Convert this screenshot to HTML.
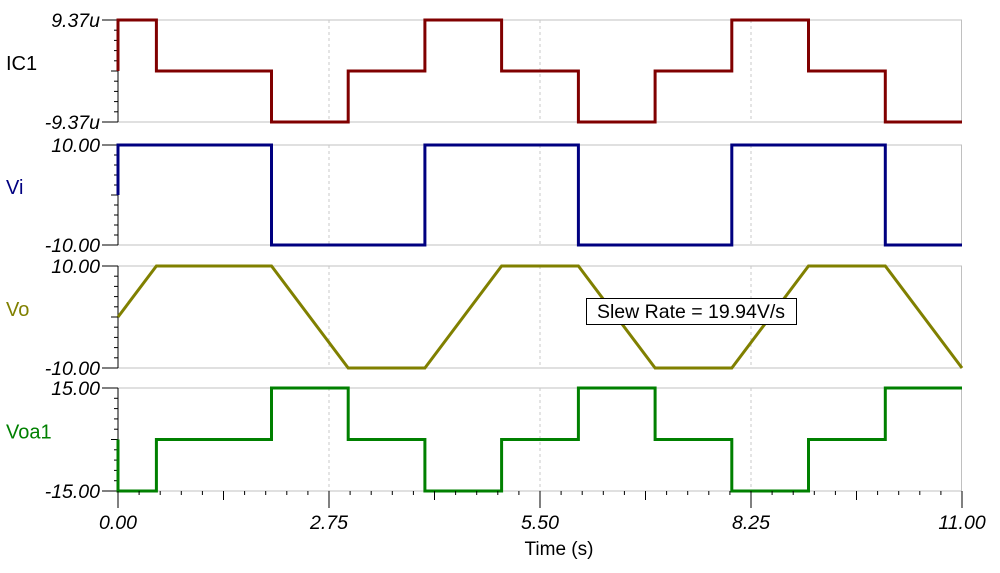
<!DOCTYPE html>
<html><head><meta charset="utf-8"><style>
body{margin:0;background:#fff;width:1000px;height:573px;overflow:hidden}
svg{display:block;font-family:"Liberation Sans",sans-serif}
</style></head><body>
<svg id="chart" width="1000" height="573" viewBox="0 0 1000 573"></svg>
<script>
const xTickLabels=["0.00","2.75","5.50","8.25","11.00"];
const xTickValues=[0,2.75,5.5,8.25,11];
const panelNames=["IC1","Vi","Vo","Voa1"];
const panelTopLabels=["9.37u","10.00","10.00","15.00"];
const panelBottomLabels=["-9.37u","-10.00","-10.00","-15.00"];
const panelMax=[9.37,10,10,15];
const panelColors=["#800000","#000080","#808000","#008000"];
const ic1T=[0,0,0.5,0.5,2,2,3,3,4,4,5,5,6,6,7,7,8,8,9,9,10,10,11];
const ic1V=[0,9.37,9.37,0,0,-9.37,-9.37,0,0,9.37,9.37,0,0,-9.37,-9.37,0,0,9.37,9.37,0,0,-9.37,-9.37];
const viT=[0,0,2,2,4,4,6,6,8,8,10,10,11];
const viV=[0,10,10,-10,-10,10,10,-10,-10,10,10,-10,-10];
const voT=[0,0.5,2,3,4,5,6,7,8,9,10,11];
const voV=[0,10,10,-10,-10,10,10,-10,-10,10,10,-10];
const voaT=[0,0,0.5,0.5,2,2,3,3,4,4,5,5,6,6,7,7,8,8,9,9,10,10,11];
const voaV=[0,-15,-15,0,0,15,15,0,0,-15,-15,0,0,15,15,0,0,-15,-15,0,0,15,15];
const seriesT=[ic1T,viT,voT,voaT];
const seriesV=[ic1V,viV,voV,voaV];

const NS="http://www.w3.org/2000/svg";
const svg=document.getElementById("chart");
const X0=118,X1=962,T0=0,T1=11;
const tops=[20,145,266,388],bots=[122,245,368,491];
const xs=t=>X0+(t-T0)/(T1-T0)*(X1-X0);
function mk(tag,attrs,parent){const e=document.createElementNS(NS,tag);for(const k in attrs)e.setAttribute(k,attrs[k]);(parent||svg).appendChild(e);return e;}

for(let p=0;p<4;p++){
  const top=tops[p],bot=bots[p],mx=panelMax[p];
  const ys=v=>top+(mx-v)/(2*mx)*(bot-top);
  const g=mk("g",{});
  
  
  mk("line",{x1:X0,y1:top,x2:X1,y2:top,stroke:"#c0c0c0"},g);
  mk("line",{x1:X0,y1:bot,x2:X1,y2:bot,stroke:"#c0c0c0"},g);
  mk("line",{x1:X1-0.5,y1:top,x2:X1-0.5,y2:bot,stroke:"#c0c0c0"},g);
  for(let i=1;i<4;i++){mk("line",{x1:xs(xTickValues[i]),y1:top,x2:xs(xTickValues[i]),y2:bot,stroke:"#c8c8c8","stroke-dasharray":"3,3"},g);}
  mk("line",{x1:X0,y1:top,x2:X0,y2:bot,stroke:"#000"},g);
  for(let k=0;k<=10;k++){const y=top+k*(bot-top)/10;const len=(k%10===0)?16:(k===5?7:4);mk("line",{x1:X0-len,y1:y,x2:X0,y2:y,stroke:"#000"},g);}
  const t1=mk("text",{x:100,y:top+7,"text-anchor":"end","font-size":"19.5","font-style":"italic",fill:"#000"},g);t1.textContent=panelTopLabels[p];
  
  
  const t2=mk("text",{x:100,y:bot+7,"text-anchor":"end","font-size":"19.5","font-style":"italic",fill:"#000"},g);t2.textContent=panelBottomLabels[p];
  
  
  const nm=mk("text",{x:6,y:(top+bot)/2-1,"font-size":"20",fill:p===0?"#000":panelColors[p]},g);nm.textContent=panelNames[p];
  
  
  const T=seriesT[p],V=seriesV[p];
  let d="";for(let i=0;i<T.length;i++)d+=(i?"L":"M")+xs(T[i]).toFixed(1)+","+ys(V[i]).toFixed(1);
  const path=mk("path",{d:d,fill:"none",stroke:panelColors[p],"stroke-width":"3"},g);
  
  
}
for(let k=0;k<=40;k++){const x=X0+k*(X1-X0)/40;const len=(k%10===0)?17:(k%5===0?9:4);mk("line",{x1:x,y1:491,x2:x,y2:491+len,stroke:"#000"});}
for(let i=0;i<xTickValues.length;i++){const t=mk("text",{x:xs(xTickValues[i]),y:529,"text-anchor":"middle","font-size":"19.5","font-style":"italic"});t.textContent=xTickLabels[i];
  
  }
const xt=mk("text",{x:559,y:555,"text-anchor":"middle","font-size":"19"});xt.textContent="Time (s)";


const box=mk("g",{});


mk("rect",{x:586.5,y:298.5,width:210,height:26,fill:"#fff",stroke:"#000"},box);
const bt=mk("text",{x:691,y:318,"text-anchor":"middle","font-size":"19.5"},box);bt.textContent="Slew Rate = 19.94V/s";
</script>
</body></html>
